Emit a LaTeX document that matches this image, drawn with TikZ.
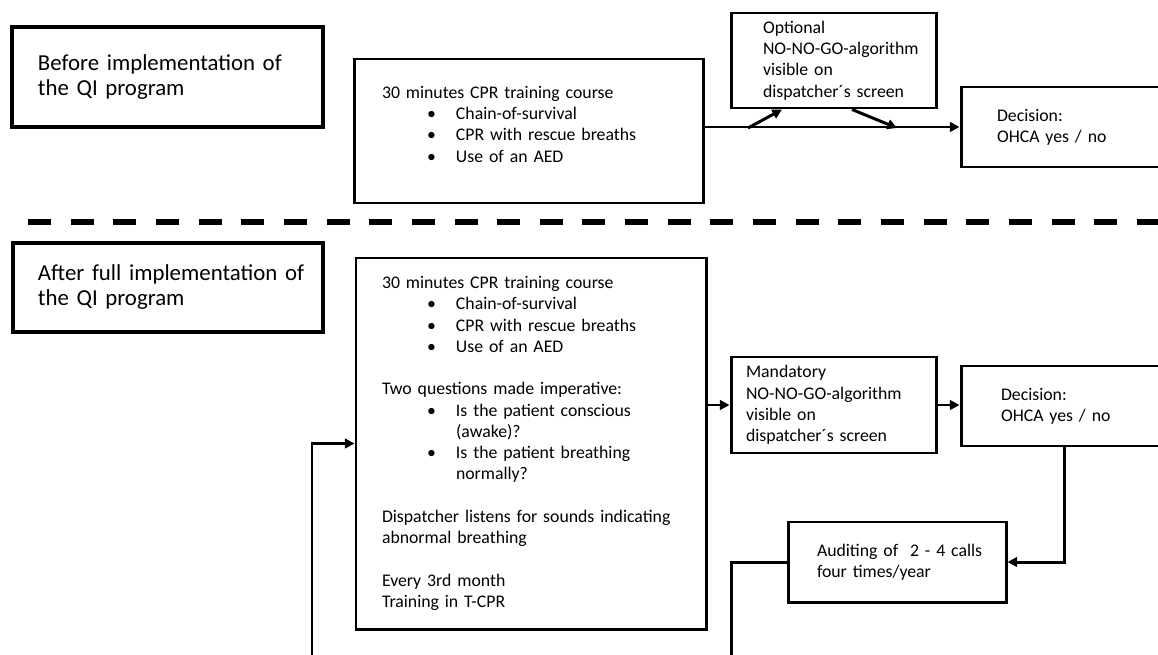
\documentclass[tikz,border=0pt]{standalone}
\usepackage{fontspec}
\setmainfont{Carlito}
\usetikzlibrary{arrows.meta}

\newcommand{\bul}{\hspace*{0.9cm}\makebox[0.58cm][l]{\textbullet}}
\newcommand{\cont}{\hspace*{1.48cm}}

\begin{document}
\begin{tikzpicture}[
  box/.style={draw, line width=1.7pt, inner sep=0pt, align=left, font=\fontsize{10.1}{12.1}\selectfont},
  titlebox/.style={box, line width=2.3pt, font=\fontsize{13}{14.2}\selectfont},
  inset/.style={execute at begin node={\leftskip=#1\relax}},
  arr/.style={-{Triangle[length=5.5pt,width=5.5pt]}, line width=1.7pt}]
\path[use as bounding box] (0,0) rectangle (23.16,-13.08);
\clip (0,0) rectangle (23.16,-13.08);

% Before
\node[titlebox, text width=6.22cm, minimum height=2.0cm, inset=0.52cm] (before) at (3.35,-1.54) {Before implementation of\\the QI program};
\node[box, text width=6.98cm, minimum height=2.88cm, inset=0.56cm] (tcourse) at (10.57,-2.62) {30 minutes CPR training course\\
\bul Chain-of-survival\\
\bul CPR with rescue breaths\\
\bul Use of an AED\\[-0.15cm]\mbox{}};
\node[box, text width=4.1cm, minimum height=1.9cm, inset=0.64cm] (optional) at (16.67,-1.21) {Optional\\NO-NO-GO-algorithm\\visible on\\dispatcher´s screen};
\node[box, text width=4.4cm, minimum height=1.6cm, inset=0.72cm] (tdecision) at (21.42,-2.54) {Decision:\\OHCA yes / no};

% Separator
\draw[line width=2.9pt, dash pattern=on 0.46cm off 0.393cm] (0.56,-4.44) -- (23.6,-4.44);

% After
\node[titlebox, text width=6.2cm, minimum height=1.78cm, inset=0.5cm] (after) at (3.36,-5.75) {After full implementation of\\the QI program};
\node[box, text width=7cm, minimum height=7.42cm, inset=0.52cm] (course) at (10.62,-8.87) {30 minutes CPR training course\\
\bul Chain-of-survival\\
\bul CPR with rescue breaths\\
\bul Use of an AED\\[12.1pt]
Two questions made imperative:\\
\bul Is the patient conscious\\
\cont (awake)?\\
\bul Is the patient breathing\\
\cont normally?\\[12.1pt]
Dispatcher listens for sounds indicating\\
abnormal breathing\\[12.1pt]
Every 3rd month\\
Training in T-CPR};
\node[box, text width=4.1cm, minimum height=1.92cm, inset=0.3cm] (mandatory) at (16.67,-8.1) {Mandatory\\NO-NO-GO-algorithm\\visible on\\dispatcher´s screen};
\node[box, text width=4.4cm, minimum height=1.6cm, inset=0.8cm] (decision) at (21.42,-8.12) {Decision:\\OHCA yes / no};
\node[box, text width=4.36cm, minimum height=1.6cm, inset=0.58cm] (auditing) at (17.94,-11.24) {Auditing of\ \ 2 - 4 calls\\four times/year};

% Arrows
\coordinate (split) at (14.96,-2.56);
\coordinate (join) at (17.94,-2.56);
\coordinate (loopa) at (14.62,-13.6);
\coordinate (loopb) at (6.24,-13.6);
\draw[arr] (tcourse.east |- tdecision) -- (tdecision);
\draw[arr] (split) -- ([xshift=-1.03cm]optional.south);
\draw[arr] ([xshift=0.37cm]optional.south) -- (join);
\draw[arr] (course.east |- mandatory) -- (mandatory);
\draw[arr] (mandatory.east) -- (mandatory.east -| decision.west);
\draw[arr] ([xshift=-0.14cm]decision.south) |- (auditing.east);
\draw[arr] (auditing.west) -| (loopa) -- (loopb) |- (course.west);
\end{tikzpicture}
\end{document}
